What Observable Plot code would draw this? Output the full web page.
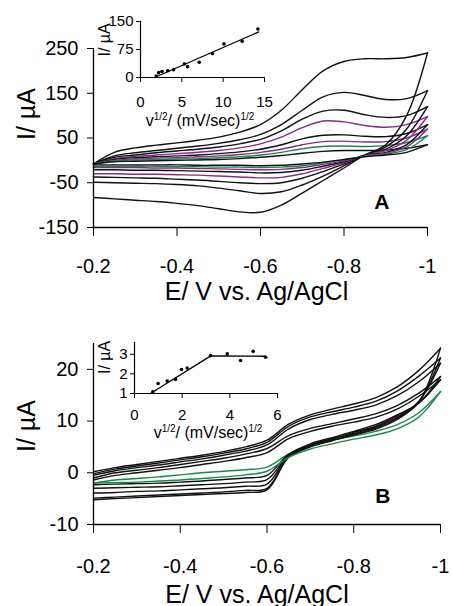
<!DOCTYPE html>
<html><head><meta charset="utf-8">
<script src="https://cdn.jsdelivr.net/npm/d3@7"></script>
<script src="https://cdn.jsdelivr.net/npm/@observablehq/plot@0.6"></script>
<style>
html,body{margin:0;padding:0;background:#fff;}
#wrap{position:relative;width:452px;height:606px;overflow:hidden;background:#fff;}
#wrap svg{position:absolute;}
</style></head><body><div id="wrap"></div>
<script>
// ---------- shared potential grid (V vs Ag/AgCl) ----------
const E = [-0.2,-0.25,-0.3,-0.35,-0.4,-0.45,-0.5,-0.55,-0.6,-0.65,-0.7,-0.75,-0.8,-0.85,-0.9,-0.95,-1.0];

// ---------- Panel A: CVs (µA) ----------
const a1Fwd = [-8,18,28,34,39,45,52,63,80,112,158,200,221,227,227,230,240];
const a1Rev = [-83,-86,-89,-92,-96,-101,-108,-115,-116,-100,-73,-45,-17,12,35,100,240];
const a2Fwd = [-8,10,17,22,27,32,38,46,58,80,112,142,152,145,136,138,156];
const a2Rev = [-49,-50,-51,-52,-54,-57,-62,-68,-74,-70,-55,-35,-12,12,30,70,156];
const a3Fwd = [-8,7,12,17,21,25,30,37,47,66,92,110,112,102,96,100,120];
const a3Rev = [-37,-38,-39,-40,-42,-44,-47,-50,-52,-50,-40,-25,-8,12,25,55,120];
const a4Fwd = [-8,4,9,12,15,18,22,28,37,52,73,88,86,78,74,80,98];
const a4Rev = [-30,-30,-31,-31,-32,-33,-35,-37,-39,-38,-30,-18,-5,12,22,45,98];
const a5Fwd = [-8,2,6,8,10,12,15,19,25,35,48,56,57,54,53,60,80];
const a5Rev = [-21,-21,-22,-22,-23,-24,-25,-26,-28,-27,-22,-13,-3,11,18,35,80];
const a6Fwd = [-8,0,3,5,6,8,10,13,18,25,35,42,43,41,42,50,70];
const a6Rev = [-16,-16,-16,-17,-17,-18,-19,-20,-21,-20,-16,-9,-1,10,16,30,70];
const a7Fwd = [-8,-1,1,2,3,4,6,8,12,18,26,31,32,31,33,40,55];
const a7Rev = [-13,-13,-13,-13,-14,-14,-15,-15,-16,-15,-12,-6,1,9,14,24,55];
const a8Fwd = [-8,-3,-2,-1,0,1,2,4,7,11,16,20,22,22,23,27,35];
const a8Rev = [-10,-10,-10,-10,-10,-11,-11,-11,-12,-11,-8,-4,2,8,12,18,35];
const aColors = ["#111","#111","#111","#8a2b8c","#111","#8a2b8c","#17894a","#111"];
const aXTicks = [-0.2,-0.4,-0.6,-0.8,-1];
const aYTicks = [-150,-50,50,150,250];

// inset A: peak current vs sqrt(scan rate)
const insAx = [1.9,2.2,2.6,3.3,4.0,5.3,5.7,7.1,8.7,10.1,12.3,14.2];
const insAy = [4,13,16,18,21,36,29,41,64,90,97,130];
const fitAx = [1.7,14.3];
const fitAy = [0,122];
const insAXTicks = [0,5,10,15];
const insAYTicks = [0,75,150];

// ---------- Panel B: CVs (µA) ----------
const b1Fwd = [0.2,1.0,1.6,2.2,2.8,3.4,4.1,5.0,6.3,9.4,11.2,12.3,13.3,14.5,16.6,19.8,24.1];
const b1Rev = [-5.2,-5.0,-4.8,-4.6,-4.4,-4.2,-4.0,-3.8,-3.3,3.0,5.0,6.2,7.3,8.4,10.3,13.6,24.1];
const b2Fwd = [-0.2,0.7,1.3,1.9,2.5,3.1,3.8,4.6,5.9,9.0,10.8,11.8,12.7,13.8,15.8,18.7,22.2];
const b2Rev = [-4.9,-4.7,-4.5,-4.3,-4.1,-3.9,-3.7,-3.4,-3.0,3.1,5.1,6.3,7.4,8.6,10.5,13.8,22.2];
const b3Fwd = [-0.5,0.4,1.0,1.5,2.1,2.7,3.4,4.2,5.4,8.5,10.3,11.3,12.1,13.1,14.9,17.6,21.2];
const b3Rev = [-3.9,-3.8,-3.6,-3.5,-3.3,-3.1,-2.9,-2.6,-2.2,3.3,5.3,6.5,7.6,8.8,10.7,13.8,21.2];
const b4Fwd = [-1.0,0.0,0.5,1.0,1.6,2.2,2.8,3.6,4.7,7.2,8.6,9.5,10.4,11.4,13.0,15.4,18.6];
const b4Rev = [-3.0,-2.9,-2.8,-2.7,-2.5,-2.3,-2.1,-1.8,-1.3,3.4,5.4,6.6,7.8,9.0,11.0,13.5,18.6];
const b5Fwd = [-1.4,-0.5,0.0,0.5,1.0,1.6,2.2,2.9,3.9,6.6,8.0,9.0,9.8,10.7,12.3,14.8,18.0];
const b5Rev = [-2.3,-2.2,-2.1,-2.0,-1.8,-1.6,-1.3,-1.0,-0.5,3.6,5.6,6.8,8.0,9.3,11.2,13.5,18.0];
const b6Fwd = [-2.0,-1.4,-1.1,-0.8,-0.4,0.0,0.3,0.6,1.1,3.6,5.3,6.3,7.1,8.0,9.3,11.6,15.7];
const b6Rev = [-2.0,-1.9,-1.8,-1.6,-1.4,-1.1,-0.8,-0.4,0.3,3.0,4.6,5.6,6.5,7.3,8.5,10.8,15.7];
const bColors = ["#111","#111","#111","#111","#111","#17894a"];
const bXTicks = [-0.2,-0.4,-0.6,-0.8,-1];
const bYTicks = [-10,0,10,20];
const bYTop = 25;

// inset B
const insBx = [0.77,0.99,1.37,1.72,1.97,2.21,3.19,3.89,4.45,4.98,5.5];
const insBy = [1.09,1.51,1.64,1.72,2.22,2.3,2.93,3.02,2.68,3.15,2.85];
const fitBx = [0.67,3.2,5.5];
const fitBy = [1.0,2.92,2.9];
const insBXTicks = [0,2,4,6];
const insBYTicks = [1,2,3];
const insBYTop = 3.6;

const yTitle = "I/ µA";
const xTitle = "E/ V vs. Ag/AgCl";

// ---------- helpers ----------
const FONT = "Liberation Sans, Arial, Helvetica, sans-serif";
function cvRows(fwd, rev, colors) {
  const rows = [];
  fwd.forEach((f, i) => f.forEach((v, j) => rows.push({id: i + "f", E: E[j], I: v, c: colors[i]})));
  rev.forEach((r, i) => r.forEach((v, j) => rows.push({id: i + "r", E: E[j], I: v, c: colors[i]})));
  return rows;
}
const pts = (xs, ys) => xs.map((x, i) => ({x, y: ys[i]}));
const fmt = d => String(d);
const wrap = document.getElementById("wrap");
function place(svg, left, top) { svg.style.left = left + "px"; svg.style.top = top + "px"; wrap.appendChild(svg); return svg; }
function baseStyle(fs) { return {background: "transparent", overflow: "visible", fontFamily: FONT, fontSize: fs + "px", color: "#000"}; }
function superTitle(svg, x, y, fs) {
  const t = d3.select(svg).append("text").attr("x", x).attr("y", y).attr("text-anchor", "middle")
    .attr("font-family", FONT).attr("font-size", fs).attr("fill", "#000");
  const s = Math.round(fs * 0.62), up = Math.round(fs * 0.36);
  t.append("tspan").text("v");
  t.append("tspan").attr("font-size", s).attr("dy", -up).text("1/2");
  t.append("tspan").attr("font-size", fs).attr("dy", up).text("/ (mV/sec)");
  t.append("tspan").attr("font-size", s).attr("dy", -up).text("1/2");
}

// ---------- Panel A main ----------
const rowsA = cvRows([a1Fwd,a2Fwd,a3Fwd,a4Fwd,a5Fwd,a6Fwd,a7Fwd,a8Fwd],[a1Rev,a2Rev,a3Rev,a4Rev,a5Rev,a6Rev,a7Rev,a8Rev], aColors);
place(Plot.plot({
  width: 452, height: 306, marginLeft: 93, marginRight: 25, marginTop: 48, marginBottom: 79,
  style: baseStyle(20),
  x: {domain: [aXTicks[0], aXTicks[aXTicks.length-1]], ticks: aXTicks, tickFormat: fmt, tickSize: 9, tickPadding: 22, label: null},
  y: {domain: [aYTicks[0], aYTicks[aYTicks.length-1]], ticks: aYTicks, tickFormat: fmt, tickSize: 6, tickPadding: 9, label: null},
  color: {type: "identity"},
  marks: [
    Plot.line(rowsA, {x: "E", y: "I", z: "id", stroke: "c", strokeWidth: 1.4, curve: "catmull-rom"}),
    Plot.ruleX([aXTicks[0]], {stroke: "#000", strokeWidth: 1.3}),
    Plot.ruleY([aYTicks[0]], {stroke: "#000", strokeWidth: 1.3}),
    Plot.text([yTitle], {text: d => d, frameAnchor: "left", dx: -67, dy: 2, rotate: -90, fontSize: 25}),
    Plot.text([xTitle], {text: d => d, frameAnchor: "bottom", dx: -4, dy: 72, lineAnchor: "bottom", fontSize: 25}),
    Plot.text(["A"], {text: d => d, frameAnchor: "bottom-right", dx: -38, dy: -19, lineAnchor: "bottom", fontSize: 21, fontWeight: "bold"})
  ]
}), 0, 0);

// ---------- Inset A ----------
const insA = place(Plot.plot({
  width: 185, height: 125, marginLeft: 45, marginRight: 16, marginTop: 16, marginBottom: 53,
  style: baseStyle(15),
  x: {domain: [insAXTicks[0], insAXTicks[insAXTicks.length-1]], ticks: insAXTicks, tickFormat: fmt, tickSize: 5, tickPadding: 14, label: null},
  y: {domain: [insAYTicks[0], insAYTicks[insAYTicks.length-1]], ticks: insAYTicks, tickFormat: fmt, tickSize: 4, tickPadding: 3, label: null},
  marks: [
    Plot.ruleX([insAXTicks[0]], {stroke: "#000", strokeWidth: 1.2}),
    Plot.ruleY([insAYTicks[0]], {stroke: "#000", strokeWidth: 1.2}),
    Plot.line(pts(fitAx, fitAy), {x: "x", y: "y", stroke: "#000", strokeWidth: 1.3}),
    Plot.dot(pts(insAx, insAy), {x: "x", y: "y", r: 1.8, fill: "#000"}),
    Plot.text([yTitle], {text: d => d, frameAnchor: "left", dx: -36, dy: 7, rotate: -90, fontSize: 16})
  ]
}), 95, 5);
superTitle(insA, 105, 121, 16);

// ---------- Panel B main ----------
const rowsB = cvRows([b1Fwd,b2Fwd,b3Fwd,b4Fwd,b5Fwd,b6Fwd],[b1Rev,b2Rev,b3Rev,b4Rev,b5Rev,b6Rev], bColors);
place(Plot.plot({
  width: 452, height: 306, marginLeft: 93, marginRight: 12, marginTop: 43, marginBottom: 82,
  style: baseStyle(20),
  x: {domain: [bXTicks[0], bXTicks[bXTicks.length-1]], ticks: bXTicks, tickFormat: fmt, tickSize: 9, tickPadding: 25, label: null},
  y: {domain: [bYTicks[0], bYTop], ticks: bYTicks, tickFormat: fmt, tickSize: 6, tickPadding: 9, label: null},
  color: {type: "identity"},
  marks: [
    Plot.line(rowsB, {x: "E", y: "I", z: "id", stroke: "c", strokeWidth: 1.4, curve: "catmull-rom"}),
    Plot.ruleX([bXTicks[0]], {stroke: "#000", strokeWidth: 1.3}),
    Plot.ruleY([bYTicks[0]], {stroke: "#000", strokeWidth: 1.3}),
    Plot.text([yTitle], {text: d => d, frameAnchor: "left", dx: -67, dy: 18, rotate: -90, fontSize: 25}),
    Plot.text([xTitle], {text: d => d, frameAnchor: "bottom", dx: -10, dy: 78, lineAnchor: "bottom", fontSize: 25}),
    Plot.text(["B"], {text: d => d, frameAnchor: "bottom-right", dx: -50, dy: -22, lineAnchor: "bottom", fontSize: 21, fontWeight: "bold"})
  ]
}), 0, 300);

// ---------- Inset B ----------
const insB = place(Plot.plot({
  width: 195, height: 110, marginLeft: 44, marginRight: 8, marginTop: 7, marginBottom: 52,
  style: baseStyle(15),
  x: {domain: [insBXTicks[0], insBXTicks[insBXTicks.length-1]], ticks: insBXTicks, tickFormat: fmt, tickSize: 5, tickPadding: 11, label: null},
  y: {domain: [insBYTicks[0], insBYTop], ticks: insBYTicks, tickFormat: fmt, tickSize: 4, tickPadding: 3, label: null},
  marks: [
    Plot.ruleX([insBXTicks[0]], {stroke: "#000", strokeWidth: 1.2}),
    Plot.ruleY([insBYTicks[0]], {stroke: "#000", strokeWidth: 1.2}),
    Plot.line(pts(fitBx, fitBy), {x: "x", y: "y", stroke: "#000", strokeWidth: 1.3}),
    Plot.dot(pts(insBx, insBy), {x: "x", y: "y", r: 1.8, fill: "#000"}),
    Plot.text([yTitle], {text: d => d, frameAnchor: "left", dx: -30, dy: 6, rotate: -90, fontSize: 16})
  ]
}), 90, 335);
superTitle(insB, 118, 103, 16);
</script></body></html>
